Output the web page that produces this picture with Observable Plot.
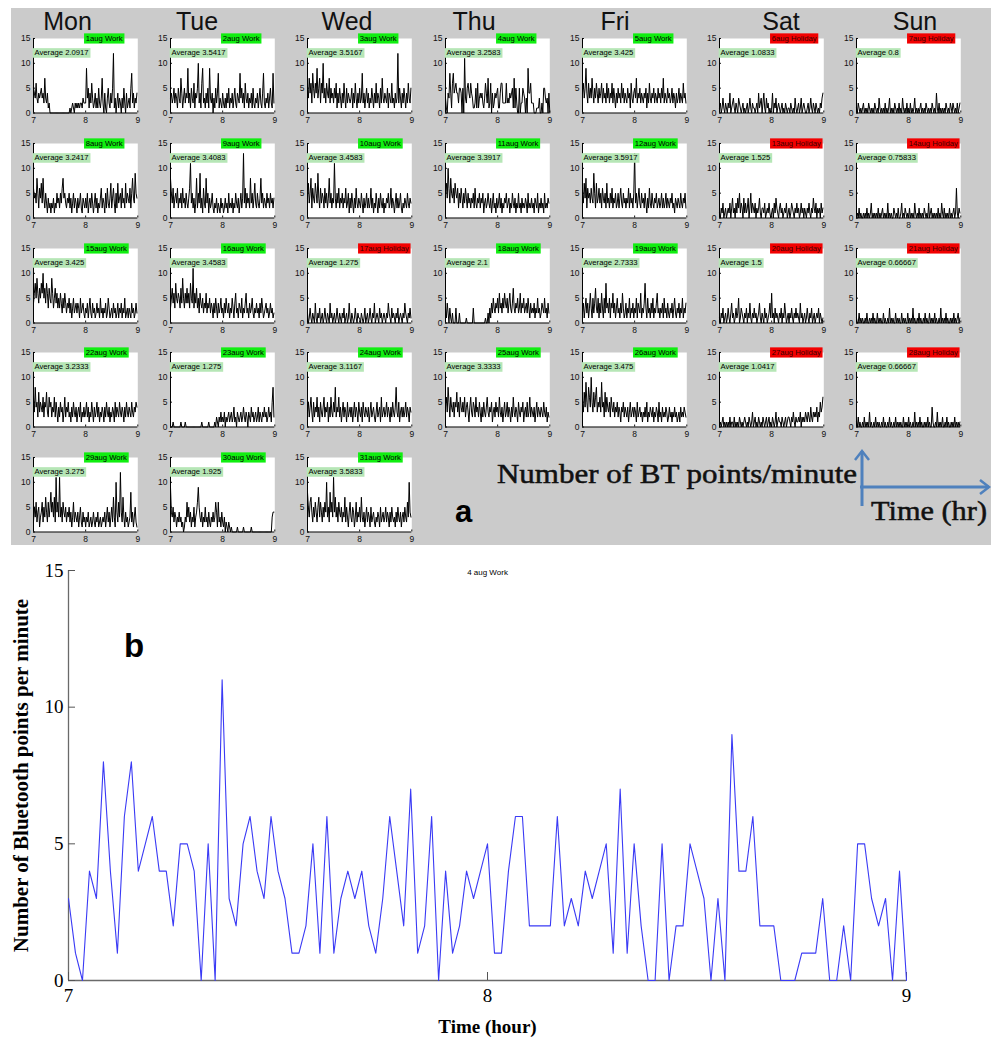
<!DOCTYPE html>
<html><head><meta charset="utf-8">
<script src="https://cdn.jsdelivr.net/npm/d3@7"></script>
<script src="https://cdn.jsdelivr.net/npm/@observablehq/plot@0.6"></script>
<style>
body{margin:0;background:#fff;}
#page{position:relative;width:991px;height:1039px;overflow:hidden;background:#fff;}
#panelA{position:absolute;left:11px;top:8px;width:980px;height:537px;background:#cbcbcb;}
</style></head>
<body><div id="page"><div id="panelA"></div></div>
<script>
// ---------- data ----------
const days = ["Mon","Tue","Wed","Thu","Fri","Sat","Sun"];
const dates = [1,2,3,4,5,6,7,8,9,10,11,12,13,14,15,16,17,18,19,20,21,22,23,24,25,26,27,28,29,30,31];
const dayTypes = ["Work","Work","Work","Work","Work","Holiday","Holiday",
  "Work","Work","Work","Work","Work","Holiday","Holiday",
  "Work","Work","Holiday","Work","Work","Holiday","Holiday",
  "Work","Work","Work","Work","Work","Holiday","Holiday",
  "Work","Work","Work"];
const averageLabels = ["2.0917","3.5417","3.5167","3.2583","3.425","1.0833","0.8",
  "3.2417","3.4083","3.4583","3.3917","3.5917","1.525","0.75833",
  "3.425","3.4583","1.275","2.1","2.7333","1.5","0.66667",
  "3.2333","1.275","3.1167","3.3333","3.475","1.0417","0.66667",
  "3.275","1.925","3.5833"];
const xTicks = [7, 8, 9];
const yTicks = [0, 5, 10, 15];

// counts per minute, 7:00 -> 9:00
const aug01 = [5,4,3,6,3,2,4,3,4,5, 3,4,2,7,3,2,4,1,2,0, 0,0,0,0,0,0,0,0,0,0, 0,0,0,0,0,0,0,0,0,0, 0,0,1,0,1,2,1,0,2,1, 2,1,2,1,2,2,1,3,2,2, 2,9,3,5,1,4,2,6,3,1, 2,4,1,3,1,5,2,1,3,7, 2,0,4,1,0,3,5,2,1,4, 2,5,12,1,3,0,2,4,1,3, 2,0,3,1,5,2,0,4,1,2, 3,1,5,8,2,4,1,3,2,4];
const aug02 = [3,4,2,3,5,2,4,3,1,5, 3,2,7,4,1,3,5,2,4,3, 9,2,4,1,5,3,2,6,1,4, 3,5,10,2,4,1,6,9,2,3, 1,4,2,5,1,9,3,2,4,0, 3,1,5,2,4,8,1,3,2,1, 4,2,1,3,1,4,2,5,1,3, 2,4,1,3,5,2,1,4,3,2, 8,3,5,2,4,1,6,3,2,4, 1,3,2,4,1,5,2,1,3,2, 4,1,3,5,2,1,4,8,2,1, 3,2,4,1,3,5,2,1,8,2];
const aug03 = [5,3,7,4,6,2,8,5,3,6, 4,9,3,5,7,2,6,4,10,3, 5,2,6,4,3,7,2,5,3,4, 2,5,3,6,1,4,2,5,3,1, 4,2,6,3,1,5,2,4,3,2, 3,5,1,4,2,6,3,1,4,2, 5,2,3,8,2,4,1,3,5,2, 4,1,3,2,5,3,1,4,2,6, 2,4,3,1,5,2,7,3,2,4, 3,2,5,1,4,3,2,6,2,3, 1,4,2,3,12,2,5,3,1,4, 2,5,3,1,4,2,6,3,2,5];
const aug04 = [3,1,0,4,3,8,4,1,6,8, 4,5,6,4,4,2,5,5,4,0, 5,0,11,3,2,5,6,4,3,6, 4,3,1,1,2,5,1,6,1,3, 4,3,4,2,1,3,6,4,2,7, 1,2,6,0,4,1,2,4,3,4, 5,1,1,4,6,6,2,2,2,2, 6,2,3,2,4,3,4,5,1,7, 1,5,2,0,0,5,0,2,2,5, 4,3,0,3,0,9,4,4,6,2, 2,2,0,0,0,1,1,1,3,0, 0,2,0,5,5,3,2,3,0,4, 0];
const aug05 = [4,6,3,5,9,4,2,6,3,5, 3,7,4,2,5,3,6,4,2,5, 3,4,6,2,5,3,4,2,6,3, 5,2,4,3,6,2,5,3,1,4, 2,5,3,4,2,6,3,5,2,4, 3,2,5,3,4,1,6,3,2,4, 5,3,7,2,4,3,5,2,4,3, 2,4,3,5,1,4,2,6,3,2, 4,3,5,2,4,3,2,5,3,4, 2,5,3,7,2,4,3,2,5,3, 4,2,3,5,2,4,3,1,4,2, 3,5,2,4,3,2,6,3,4,2];
const aug06 = [1,2,0,1,3,1,0,2,1,0, 2,1,4,0,1,2,3,1,0,2, 1,0,3,2,1,0,1,2,0,1, 0,1,2,0,1,3,1,0,2,1, 1,0,1,2,0,4,1,2,3,0, 2,4,1,0,3,1,2,0,1,0, 1,4,0,2,1,3,0,1,2,1, 0,1,2,0,1,0,2,1,0,1, 1,0,2,1,0,1,0,3,1,0, 1,2,0,1,3,0,1,2,1,0, 0,1,2,0,1,3,1,0,2,1, 0,2,1,0,1,0,2,1,3,4];
const aug07 = [1,0,2,1,0,1,0,1,2,0, 1,0,1,0,2,1,0,1,0,1, 0,2,1,0,1,0,3,1,0,1, 0,1,0,2,0,1,0,1,3,0, 1,0,1,0,2,1,0,1,0,2, 0,1,0,3,1,0,1,0,2,0, 1,0,2,0,1,0,1,3,0,1, 0,1,0,1,2,0,1,0,1,0, 2,1,0,1,0,1,0,2,1,0, 1,0,4,1,0,2,0,1,0,1, 0,1,0,2,1,0,1,0,2,1, 0,2,1,0,1,0,2,0,1,2];
const aug08 = [6,4,5,3,8,5,2,6,4,7, 3,8,4,2,5,3,1,4,2,3, 1,3,2,4,1,3,2,5,3,4, 2,5,3,6,8,4,5,3,2,4, 3,5,2,4,1,3,5,2,4,3, 1,4,2,3,5,2,1,4,3,2, 4,2,5,1,3,4,2,5,3,1, 3,5,2,4,1,3,2,4,6,2, 4,3,1,5,2,6,3,2,4,7, 2,4,6,3,1,5,2,7,3,4, 5,2,6,3,4,2,7,3,5,4, 3,6,2,5,8,4,3,9,5,4];
const aug09 = [8,5,3,6,2,4,5,3,6,2, 4,3,5,2,6,3,4,2,5,3, 2,4,6,11,3,5,2,4,1,3, 8,2,5,3,9,2,4,1,6,3, 2,8,3,5,1,4,2,3,5,2, 1,3,2,4,1,3,2,1,4,2, 3,1,2,4,2,3,1,5,2,3, 2,4,1,3,2,5,3,2,4,1, 3,5,2,4,13,3,6,2,5,3, 4,2,8,3,5,2,4,7,3,2, 5,3,2,4,8,3,5,2,4,3, 2,5,3,4,2,5,3,4,2,4];
const aug10 = [4,7,3,5,8,2,6,4,3,7, 5,3,9,4,2,6,3,5,4,2, 6,3,5,2,4,8,3,5,2,4, 3,11,4,2,5,3,6,2,4,3, 5,2,4,3,6,2,3,5,1,4, 2,5,3,1,4,2,6,3,2,4, 3,2,5,3,1,4,2,3,5,2, 4,2,3,6,2,4,1,3,2,5, 3,1,4,2,5,3,2,4,1,3, 2,4,3,5,2,3,6,2,4,3, 1,3,5,2,4,2,3,5,2,1, 3,2,4,3,2,5,3,2,4,3];
const aug11 = [5,7,4,10,6,3,8,5,4,6, 3,7,5,4,6,2,5,3,6,4, 2,5,3,6,4,2,5,3,4,2, 4,3,5,2,6,3,2,4,3,5, 2,4,3,5,1,3,4,2,3,5, 3,2,4,1,3,5,2,3,1,4, 2,3,5,2,4,1,3,2,4,3, 5,2,3,4,1,3,2,5,3,2, 4,1,3,2,5,2,3,1,4,2, 3,2,4,3,1,5,2,3,2,4, 2,3,1,4,3,2,5,1,3,2, 4,2,3,1,5,2,3,2,4,3];
const aug12 = [5,3,7,4,8,2,6,4,5,3, 6,4,3,9,5,2,7,3,4,6, 3,5,2,6,4,3,5,2,7,3, 4,2,5,3,6,2,4,3,5,2, 3,5,2,4,6,3,2,5,3,4, 2,4,3,6,2,5,3,4,2,5, 13,3,5,2,4,6,3,2,5,3, 4,2,5,3,1,4,2,6,3,2, 5,3,2,4,3,5,2,3,4,2, 3,5,2,4,2,3,5,2,4,3, 2,4,3,5,2,3,1,4,3,2, 4,3,2,5,3,2,4,3,5,2];
const aug13 = [1,0,2,1,3,0,1,2,0,1, 2,1,3,0,2,4,1,2,0,3, 1,4,2,5,1,3,2,0,4,1, 3,1,2,4,0,2,5,1,3,2, 1,3,0,2,1,2,4,1,0,2, 2,1,3,0,1,2,1,3,1,0, 1,2,0,3,1,4,2,1,0,2, 3,1,2,0,1,2,1,3,0,1, 2,0,1,3,2,1,0,2,1,3, 1,2,0,1,3,1,2,0,2,1, 0,2,1,3,1,0,2,1,4,2, 1,3,0,2,1,2,0,3,1,2];
const aug14 = [0,1,0,2,0,1,0,0,1,0, 1,0,2,0,1,0,1,3,0,1, 0,1,0,1,0,2,0,1,0,1, 2,0,1,0,1,0,3,0,1,0, 1,0,0,2,1,0,1,0,2,0, 0,1,3,0,1,0,2,1,0,1, 0,2,0,1,0,1,0,3,1,0, 1,0,2,0,1,0,1,0,2,1, 0,1,0,3,0,1,2,0,1,0, 1,0,1,0,2,0,1,0,3,1, 0,2,0,1,0,1,0,2,0,1, 0,1,2,0,1,6,1,0,2,1];
const aug15 = [4,6,8,5,9,6,4,7,5,8, 6,10,5,7,4,8,6,3,7,5, 4,9,6,3,5,7,4,6,3,5, 3,6,4,2,5,3,6,4,2,4, 3,5,2,4,1,3,5,2,3,4, 2,4,3,1,5,2,3,4,2,1, 3,2,4,1,3,5,2,1,4,2, 3,1,2,4,2,3,1,5,2,3, 1,3,2,4,1,2,5,3,1,2, 3,1,4,2,3,1,2,4,1,3, 2,4,1,3,2,5,1,2,3,1, 3,2,1,4,2,3,1,2,4,2];
const aug16 = [3,5,7,4,6,3,8,5,4,6, 5,3,7,4,9,5,3,6,4,7, 4,6,3,8,5,4,11,3,6,4, 7,3,5,2,6,4,3,5,2,4, 3,6,2,4,3,5,2,4,3,1, 4,2,5,3,1,4,2,3,5,2, 3,1,4,2,5,3,2,4,1,3, 2,5,3,1,4,6,2,3,1,4, 3,2,5,1,3,2,4,6,2,3, 1,4,2,3,5,2,1,3,2,4, 2,3,1,4,2,5,3,1,2,3, 4,2,3,1,2,4,2,3,1,2];
const aug17 = [2,0,1,3,1,0,2,1,0,4, 1,0,2,1,3,0,1,2,0,1, 3,1,0,2,1,0,4,1,2,0, 1,2,0,1,3,1,0,2,1,0, 2,1,3,0,1,2,0,1,4,1, 0,2,1,0,1,3,1,0,2,1, 1,0,2,1,0,1,3,0,1,2, 0,1,3,1,0,2,1,4,0,1, 2,1,0,3,1,2,0,1,2,1, 0,2,1,4,2,1,0,3,1,2, 1,0,2,1,3,0,1,2,1,0, 2,1,4,2,1,0,2,1,3,1];
const aug18 = [3,1,4,2,0,3,1,0,2,0, 0,0,3,0,0,0,2,0,0,0, 0,0,0,0,1,0,0,0,0,0, 0,0,3,0,0,0,0,0,0,0, 0,0,0,0,0,0,1,0,0,2, 0,3,1,4,2,5,3,2,4,3, 5,2,6,3,4,2,5,3,6,4, 3,5,2,4,6,3,2,4,7,3, 2,4,3,5,2,3,6,2,4,3, 5,2,3,4,2,5,3,1,4,2, 3,2,4,1,3,2,5,2,3,1, 2,4,3,2,5,2,3,1,4,2];
const aug19 = [2,4,1,3,5,2,4,1,3,6, 3,1,5,2,4,7,3,2,5,1, 4,2,6,3,1,5,2,8,3,4, 2,5,1,4,3,6,2,4,1,3, 5,2,3,1,4,2,6,3,1,2, 4,1,3,2,5,1,3,2,4,1, 3,2,5,1,4,3,2,6,1,3, 2,4,8,3,1,5,2,3,1,4, 2,5,1,3,2,4,6,2,3,1, 3,2,4,1,5,2,3,1,4,2, 1,3,2,4,1,3,5,2,1,3, 2,4,1,3,2,5,1,3,2,4];
const aug20 = [1,0,2,1,3,0,1,2,0,1, 3,1,0,2,4,1,2,0,1,3, 1,2,5,0,1,3,2,1,0,2, 1,3,0,2,1,4,1,0,2,1, 3,1,2,0,1,2,4,1,0,2, 1,0,3,1,2,0,1,2,4,1, 6,1,2,0,3,1,2,1,0,2, 1,3,0,2,1,4,2,0,1,2, 0,2,1,3,1,0,2,1,3,1, 2,1,0,4,1,2,0,1,2,0, 1,3,1,0,2,1,3,0,1,2, 0,1,2,1,3,0,2,1,0,1];
const aug21 = [1,0,0,2,0,1,0,1,0,0, 1,0,2,0,0,1,0,1,0,2, 0,1,0,0,2,0,1,0,1,0, 0,2,0,1,0,0,1,0,3,0, 1,0,1,0,0,2,0,1,0,1, 0,0,2,0,1,0,1,0,0,2, 0,1,0,1,0,3,0,1,0,0, 1,0,2,0,1,0,0,1,0,2, 0,1,0,0,2,0,1,0,1,0, 2,0,1,0,0,1,0,3,0,1, 0,1,0,2,0,1,0,0,1,0, 1,0,2,0,1,0,1,2,0,1];
const aug22 = [6,3,8,4,5,2,7,3,5,4, 3,6,2,5,4,7,3,2,6,4, 5,2,4,3,6,2,5,3,1,4, 2,5,3,4,1,3,6,2,4,3, 5,2,3,1,4,2,5,3,2,4, 1,3,4,2,5,1,3,2,4,2, 3,5,2,4,1,3,2,5,3,1, 4,2,3,5,2,4,1,3,2,4, 3,1,4,2,5,3,2,4,1,3, 2,4,3,1,5,2,4,3,2,5, 3,2,4,3,1,4,2,5,3,2, 4,3,2,5,3,2,4,3,5,4];
const aug23 = [0,0,0,1,0,0,0,0,0,0, 0,0,1,0,0,0,0,1,0,0, 0,0,0,0,0,0,0,0,0,0, 0,0,0,0,0,0,1,0,0,0, 0,0,0,0,1,0,0,0,0,0, 0,1,0,2,1,0,2,1,3,1, 2,1,3,0,2,1,2,3,1,2, 3,1,2,4,1,2,0,3,2,1, 2,3,1,2,4,2,1,3,2,0, 3,2,1,4,2,3,1,2,3,1, 2,4,1,3,2,1,3,2,4,2, 3,1,2,4,2,3,1,5,8,2];
const aug24 = [3,5,2,4,6,3,1,5,2,4, 3,6,2,4,1,5,3,2,4,6, 2,4,3,5,1,4,2,6,3,2, 5,3,8,2,4,3,6,2,4,1, 3,5,2,4,3,1,5,2,3,4, 2,4,1,3,5,2,4,3,1,5, 3,2,4,1,5,3,2,4,3,2, 4,1,3,5,2,3,4,2,1,3, 5,2,3,4,1,6,2,3,4,2, 3,5,2,4,3,1,4,2,5,3, 2,4,8,3,2,5,1,3,4,2, 4,2,3,5,2,4,3,1,4,3];
const aug25 = [4,6,3,8,5,2,6,4,3,5, 2,5,4,7,3,5,2,6,4,3, 5,3,6,2,4,5,3,1,4,6, 3,2,5,4,2,6,3,4,2,5, 3,1,4,2,5,3,2,4,6,3, 2,4,3,5,1,3,4,2,5,3, 4,2,6,3,2,4,1,3,5,2, 3,5,2,4,3,1,4,2,6,3, 2,4,3,1,5,3,2,4,3,5, 1,3,4,2,5,2,3,6,2,4, 3,2,4,1,3,5,2,4,3,2, 4,3,2,5,3,2,4,1,3,2];
const aug26 = [5,3,7,4,9,5,3,8,6,4, 10,5,3,7,4,6,8,3,5,4, 6,3,9,4,5,2,7,3,6,4, 3,5,2,6,4,3,5,2,4,3, 5,2,4,3,1,4,3,5,2,4, 3,2,4,1,3,5,2,3,4,2, 4,3,1,5,2,3,4,2,3,1, 3,2,4,2,5,1,3,2,4,3, 2,4,1,3,2,4,3,1,5,2, 3,1,4,2,3,2,4,3,1,2, 4,2,3,1,3,2,4,2,3,1, 2,3,1,4,2,3,2,4,3,2];
const aug27 = [0,1,0,1,2,0,1,0,1,0, 1,0,2,0,1,1,0,2,0,1, 0,1,0,2,1,0,1,0,1,2, 1,0,1,0,2,1,0,1,3,0, 1,2,0,1,0,2,1,0,1,0, 2,1,0,1,2,0,1,2,0,1, 0,2,1,0,1,3,0,1,2,1, 1,0,2,1,0,1,2,0,1,2, 2,1,0,2,1,3,1,0,2,1, 1,2,1,3,0,2,1,2,1,3, 2,1,3,2,1,4,2,1,3,2, 3,2,4,1,3,2,5,3,4,6];
const aug28 = [1,0,2,0,1,0,0,1,0,2, 0,1,0,1,0,3,0,1,0,0, 1,0,2,0,1,0,1,0,0,1, 0,2,0,1,0,0,1,0,2,0, 1,0,0,1,0,2,0,1,0,1, 0,1,0,0,2,0,1,0,1,0, 2,0,1,0,0,1,0,3,0,1, 0,1,0,2,0,1,0,0,1,0, 1,0,2,0,1,0,0,4,1,0, 0,1,0,3,0,1,0,1,0,2, 0,0,1,0,2,0,1,0,0,1, 0,1,0,2,0,1,0,1,0,1];
const aug29 = [2,5,3,6,2,4,5,1,3,4, 6,2,5,3,7,4,2,6,3,5, 8,4,6,3,7,2,11,4,6,3, 11,3,5,2,6,4,3,5,2,4, 3,5,2,4,1,3,6,2,4,3, 2,4,1,3,5,2,1,4,2,3, 1,3,2,4,1,2,3,1,2,4, 2,1,3,2,4,1,2,3,1,2, 3,2,4,1,3,5,2,4,1,3, 5,2,7,3,1,10,4,2,6,3, 12,4,2,7,3,1,4,2,3,1, 2,3,8,2,4,1,3,5,2,1];
const aug30 = [9,4,3,5,2,4,3,1,3,2, 4,2,3,1,2,0,1,3,2,6, 3,5,2,4,1,3,2,5,1,3, 4,6,9,5,3,2,4,1,3,2, 5,2,3,1,4,2,1,3,2,4, 2,3,6,4,1,6,2,3,1,4, 2,1,3,0,2,1,0,2,1,0, 1,0,0,0,0,0,0,1,0,0, 0,0,0,0,1,0,0,0,0,0, 0,0,0,1,0,0,0,0,0,0, 0,0,0,0,0,0,0,0,0,0, 0,0,0,0,0,0,0,3,4,4];
const aug31 = [8,5,3,6,7,4,2,5,3,6, 4,2,5,7,3,6,4,2,5,3, 6,4,10,3,5,2,8,4,6,3, 11,4,7,3,5,2,6,4,3,5, 2,4,3,7,2,5,3,1,4,6, 3,2,5,4,1,3,6,2,4,3, 5,2,7,3,2,4,1,3,5,2, 4,3,1,5,2,3,4,2,1,3, 2,4,3,1,5,2,3,4,2,3, 5,2,4,3,1,4,2,5,3,2, 3,1,4,2,5,3,2,4,1,3, 4,2,5,3,2,6,3,10,4,3];

const series = [aug01,aug02,aug03,aug04,aug05,aug06,aug07,aug08,aug09,aug10,aug11,aug12,aug13,aug14,aug15,aug16,
  aug17,aug18,aug19,aug20,aug21,aug22,aug23,aug24,aug25,aug26,aug27,aug28,aug29,aug30,aug31];

// ---------- layout ----------
const page = document.getElementById("page");
const SANS = "'Liberation Sans', Arial, sans-serif";
const SERIF = "'Liberation Serif', 'Times New Roman', serif";
const hour = (d, i) => 7 + i / 60;
const fmt = d => String(d);

// draw a filled box behind every text of the chart whose content passes the test
function addBoxes(svg, test, fill, px, py) {
  Array.from(svg.querySelectorAll("text")).filter(t => test(t.textContent)).forEach(t => {
    const b = t.getBBox();
    const r = document.createElementNS("http://www.w3.org/2000/svg", "rect");
    r.setAttribute("x", b.x - px);
    r.setAttribute("y", b.y - py);
    r.setAttribute("width", b.width + 2 * px);
    r.setAttribute("height", b.height + 2 * py);
    r.setAttribute("fill", fill);
    r.setAttribute("stroke", "none");
    const tr = t.getAttribute("transform");
    if (tr) r.setAttribute("transform", tr);
    t.parentNode.insertBefore(r, t);
  });
}

const PW = 104.3, PH = 74.5, COL = 137.07, ROW = 104.75, X0 = 33.3, Y0 = 38;
const ML = 30, MR = 8, MT = 12, MB = 16;

series.forEach((vals, i) => {
  const col = i % 7, row = Math.floor(i / 7);
  const holiday = dayTypes[i] === "Holiday";
  const tag = `${dates[i]}aug ${dayTypes[i]}`;
  const svg = Plot.plot({
    width: ML + PW + MR, height: MT + PH + MB,
    marginLeft: ML, marginRight: MR, marginTop: MT, marginBottom: MB,
    x: {domain: [7, 9]},
    y: {domain: [0, 15]},
    style: {background: "transparent", fontFamily: SANS, fontSize: "8.5px", color: "#111", overflow: "visible"},
    marks: [
      Plot.frame({fill: "white", stroke: null}),
      Plot.axisX(xTicks, {tickSize: -2, tickPadding: 6, label: null, tickFormat: fmt}),
      Plot.axisY(yTicks, {tickSize: -2, tickPadding: 5, label: null, tickFormat: fmt}),
      Plot.ruleX([7], {stroke: "#000", strokeWidth: 1}),
      Plot.ruleY([0], {stroke: "#000", strokeWidth: 1}),
      Plot.lineY(vals, {x: hour, y: d => d, stroke: "#000", strokeWidth: 1}),
      Plot.text([tag], {frameAnchor: "top", textAnchor: "start", lineAnchor: "middle",
        fontSize: 7.7, fill: holiday ? "#3a0000" : "#000"}),
      Plot.text([`Average ${averageLabels[i]}`], {frameAnchor: "top-left", textAnchor: "start", lineAnchor: "middle",
        dx: 1, dy: 14.5, fontSize: 7.7, fill: "#000"})
    ]
  });
  svg.style.position = "absolute";
  svg.style.left = (X0 + col * COL - ML) + "px";
  svg.style.top = (Y0 + row * ROW - MT) + "px";
  page.append(svg);
  addBoxes(svg, s => s === tag, holiday ? "#f20000" : "#10ee10", 1.6, 0.6);
  addBoxes(svg, s => s.startsWith("Average"), "#b6e6b6", 1.8, 0.3);
});

// ---------- panel b ----------
const bChart = Plot.plot({
  width: 991, height: 489,
  marginLeft: 68, marginRight: 85, marginTop: 20, marginBottom: 59,
  x: {domain: [7, 9]},
  y: {domain: [0, 15]},
  style: {background: "transparent", fontFamily: SERIF, fontSize: "19px", color: "#000", overflow: "visible"},
  marks: [
    Plot.ruleX([7], {stroke: "#6a6a6a", strokeWidth: 1.3}),
    Plot.ruleY([0], {stroke: "#6a6a6a", strokeWidth: 1.3}),
    Plot.axisX(xTicks, {tickSize: -8, tickPadding: 16, label: null, stroke: "#555", tickFormat: fmt}),
    Plot.axisY(yTicks, {tickSize: -7, tickPadding: 12, label: null, stroke: "#555", tickFormat: fmt}),
    Plot.lineY(aug04, {x: hour, y: d => d, stroke: "#3a3af5", strokeWidth: 1.1}),
    Plot.text(["4 aug Work"], {frameAnchor: "top", lineAnchor: "middle", dy: 2, fontSize: 8, fontFamily: SANS}),
    Plot.text(["Time (hour)"], {frameAnchor: "bottom", lineAnchor: "middle", dy: 46, fontWeight: "bold", fontSize: 19}),
    Plot.text(["Number of Bluetooth points per minute"], {frameAnchor: "left", textAnchor: "middle", rotate: -90,
      lineAnchor: "middle", dx: -47, fontWeight: "bold", fontSize: 21})
  ]
});
bChart.style.position = "absolute";
bChart.style.left = "0px";
bChart.style.top = "550px";
page.append(bChart);

// ---------- annotations ----------
const headerCenters = [67.5, 197, 347, 474, 615, 781, 915];
const ov = d3.create("svg").attr("width", 991).attr("height", 1039)
  .style("position", "absolute").style("left", "0px").style("top", "0px");
ov.selectAll("text.hdr").data(days).join("text").attr("class", "hdr")
  .attr("x", (d, i) => headerCenters[i]).attr("y", 30).attr("text-anchor", "middle")
  .attr("font-family", SANS).attr("font-size", 25).attr("fill", "#111").text(d => d);
ov.append("text").attr("x", 497).attr("y", 483).attr("font-family", SERIF).attr("font-size", 27)
  .attr("fill", "#111").attr("stroke", "#111").attr("stroke-width", 0.5)
  .attr("textLength", 360).attr("lengthAdjust", "spacingAndGlyphs")
  .text("Number of BT points/minute");
ov.append("text").attr("x", 871).attr("y", 520).attr("font-family", SERIF).attr("font-size", 27)
  .attr("fill", "#111").attr("stroke", "#111").attr("stroke-width", 0.5)
  .attr("textLength", 116).attr("lengthAdjust", "spacingAndGlyphs")
  .text("Time (hr)");
ov.append("text").attr("x", 455).attr("y", 522).attr("font-family", SANS).attr("font-size", 31)
  .attr("font-weight", "bold").attr("fill", "#000").text("a");
ov.append("text").attr("x", 124).attr("y", 657).attr("font-family", SANS).attr("font-size", 33)
  .attr("font-weight", "bold").attr("fill", "#000").text("b");
const blue = "#4f81bd";
ov.append("line").attr("x1", 862).attr("y1", 506).attr("x2", 862).attr("y2", 451)
  .attr("stroke", blue).attr("stroke-width", 3);
ov.append("polyline").attr("points", "855,460 862,451 869,460").attr("fill", "none")
  .attr("stroke", blue).attr("stroke-width", 2.5);
ov.append("line").attr("x1", 860).attr("y1", 487).attr("x2", 989).attr("y2", 487)
  .attr("stroke", blue).attr("stroke-width", 3);
ov.append("polyline").attr("points", "980,480 989,487 980,494").attr("fill", "none")
  .attr("stroke", blue).attr("stroke-width", 2.5);
page.append(ov.node());
</script></body></html>
